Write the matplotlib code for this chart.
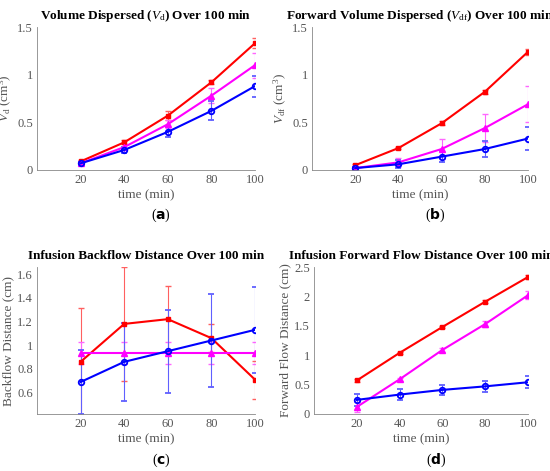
import matplotlib
matplotlib.use('Agg')
from matplotlib import pyplot as plt

plt.rcParams['font.family'] = ['Liberation Serif', 'DejaVu Serif']
plt.rcParams['mathtext.fontset'] = 'custom'
plt.rcParams['mathtext.it'] = 'Liberation Serif:italic'
plt.rcParams['mathtext.rm'] = 'Liberation Serif'

_GREY = '#555555'
times = [20, 40, 60, 80, 100]

vd_red = [0.09, 0.29, 0.57, 0.92, 1.33]
vd_red_err = [0.02, 0.02, 0.05, 0.02, 0.05]
vd_mag = [0.07, 0.24, 0.48, 0.78, 1.10]
vd_mag_err = [0.01, 0.03, 0.04, 0.08, 0.13]
vd_blue = [0.07, 0.21, 0.40, 0.62, 0.88]
vd_blue_err = [0.01, 0.03, 0.05, 0.10, 0.11]

vdf_red = [0.05, 0.23, 0.49, 0.82, 1.24]
vdf_red_err = [0.01, 0.01, 0.02, 0.02, 0.03]
vdf_mag = [0.02, 0.08, 0.22, 0.44, 0.69]
vdf_mag_err = [0.01, 0.05, 0.10, 0.15, 0.19]
vdf_blue = [0.02, 0.06, 0.14, 0.22, 0.33]
vdf_blue_err = [0.01, 0.04, 0.06, 0.08, 0.12]

back_red = [0.86, 1.18, 1.22, 1.06, 0.71]
back_red_err = [0.45, 0.48, 0.28, 0.12, 0.16]
back_mag = [0.935, 0.935, 0.935, 0.935, 0.935]
back_mag_err = [0.09, 0.09, 0.09, 0.09, 0.09]
back_blue = [0.69, 0.86, 0.95, 1.04, 1.13]
back_blue_err = [0.27, 0.33, 0.35, 0.39, 0.36]

fwd_red = [0.57, 1.04, 1.48, 1.91, 2.33]
fwd_red_err = [0.02, 0.02, 0.02, 0.03, 0.03]
fwd_mag = [0.12, 0.59, 1.09, 1.53, 2.02]
fwd_mag_err = [0.08, 0.03, 0.04, 0.05, 0.07]
fwd_blue = [0.24, 0.33, 0.41, 0.47, 0.54]
fwd_blue_err = [0.10, 0.09, 0.08, 0.09, 0.10]

panels = [
    ([37, 27, 218, 143], r'Volume Dispersed ($V_{\mathrm{d}}$) Over 100 min', r'$V_{\mathrm{d}}$ (cm$^3$)',
     (0, 1.5), [0, 0.5, 1, 1.5], ['0', '0.5', '1', '1.5'], '(a)',
     (vd_red, vd_red_err), (vd_mag, vd_mag_err), (vd_blue, vd_blue_err)),
    ([312, 27, 216, 143], r'Forward Volume Dispersed ($V_{\mathrm{df}}$) Over 100 min', r'$V_{\mathrm{df}}$ (cm$^3$)',
     (0, 1.5), [0, 0.5, 1, 1.5], ['0', '0.5', '1', '1.5'], '(b)',
     (vdf_red, vdf_red_err), (vdf_mag, vdf_mag_err), (vdf_blue, vdf_blue_err)),
    ([37, 267, 218, 147], 'Infusion Backflow Distance Over 100 min', 'Backflow Distance (cm)',
     (0.42, 1.66), [0.6, 0.8, 1, 1.2, 1.4, 1.6], ['0.6', '0.8', '1', '1.2', '1.4', '1.6'], '(c)',
     (back_red, back_red_err), (back_mag, back_mag_err), (back_blue, back_blue_err)),
    ([314, 267, 214, 147], 'Infusion Forward Flow Distance Over 100 min', 'Forward Flow Distance (cm)',
     (0, 2.5), [0, 0.5, 1, 1.5, 2, 2.5], ['0', '0.5', '1', '1.5', '2', '2.5'], '(d)',
     (fwd_red, fwd_red_err), (fwd_mag, fwd_mag_err), (fwd_blue, fwd_blue_err)),
]

W, H = 550, 471
fig = plt.figure(figsize=(W / 100, H / 100), dpi=100)

for rect, title, ylabel, ylim, yticks, yticklabels, tag, red, mag, blue in panels:
    x0, y0, w, h = rect
    ax = fig.add_axes([x0 / W, 1 - (y0 + h) / H, w / W, h / H])
    ax.errorbar(times, red[0], yerr=red[1], color='#ff0000', ecolor='#ff6060', marker='s', ms=3,
                lw=1.5, elinewidth=0.8, capsize=2)
    ax.errorbar(times, mag[0], yerr=mag[1], color='#ff00ff', ecolor='#ff66ff', marker='^', ms=5,
                lw=1.5, elinewidth=0.8, capsize=2)
    ax.errorbar(times, blue[0], yerr=blue[1], color='#0000ff', ecolor='#6060ff', marker='o', ms=4,
                mfc='none', mew=1.3, lw=1.5, elinewidth=0.8, capsize=2)
    ax.set_xlim(0, 100)
    ax.set_ylim(*ylim)
    ax.set_xticks(times)
    ax.set_yticks(yticks)
    ax.set_yticklabels(yticklabels)
    ax.spines['top'].set_visible(False)
    ax.spines['right'].set_visible(False)
    for s in ('left', 'bottom'):
        ax.spines[s].set_color('#888888')
        ax.spines[s].set_linewidth(0.6)
    ax.tick_params(labelsize=9, colors=_GREY, length=0, pad=3)
    ax.set_title(title, fontsize=9.5, fontweight='bold', pad=6)
    ax.set_xlabel('time (min)', fontsize=9.5, color=_GREY, labelpad=2)
    ax.set_ylabel(ylabel, fontsize=9.5, color=_GREY, labelpad=2)
    ax.text(0.57, -0.34, tag[0] + r'$\mathbf{' + tag[1] + '}$' + tag[2], transform=ax.transAxes,
            ha='center', fontsize=10)

fig.savefig('out.png', dpi=100)
